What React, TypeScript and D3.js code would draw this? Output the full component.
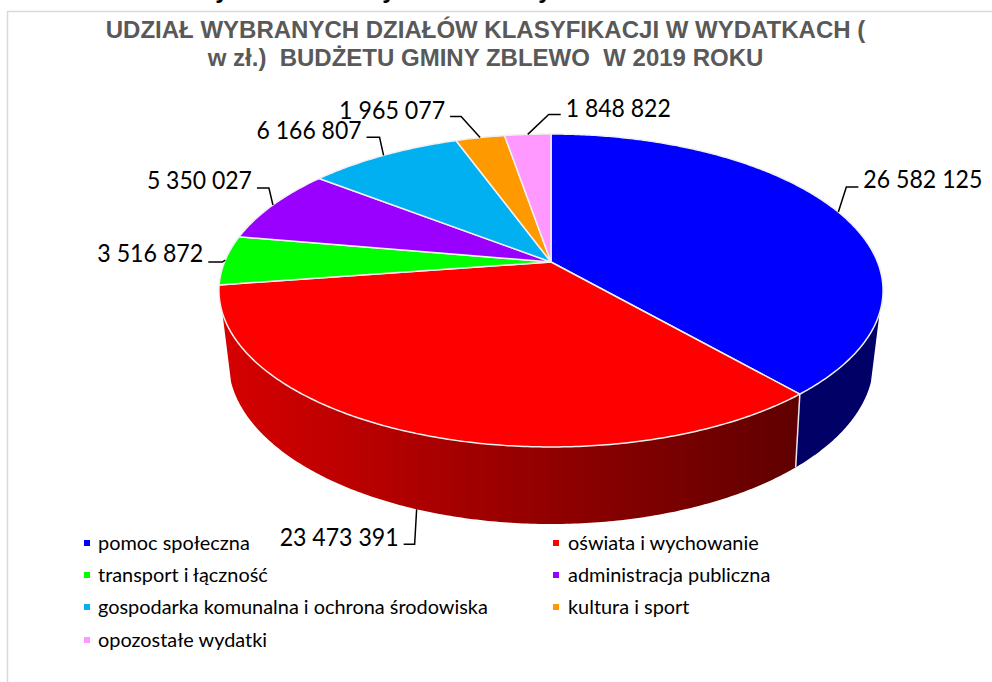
import React from "react";
import * as d3 from "d3";

const categories = [
  "pomoc społeczna",
  "oświata i wychowanie",
  "transport i łączność",
  "administracja publiczna",
  "gospodarka komunalna i ochrona środowiska",
  "kultura i sport",
  "opozostałe wydatki",
];
const values = [26582125, 23473391, 3516872, 5350027, 6166807, 1965077, 1848822];
const valueLabels = ["26 582 125", "23 473 391", "3 516 872", "5 350 027", "6 166 807", "1 965 077", "1 848 822"];
const colors = ["#0000ff", "#ff0000", "#00ff00", "#9900ff", "#00b0f0", "#ff9900", "#ff99ff"];
const titleLines = ["UDZIAŁ WYBRANYCH DZIAŁÓW KLASYFIKACJI W WYDATKACH (", "w zł.)  BUDŻETU GMINY ZBLEWO  W 2019 ROKU"];

// layout: offsets from the leader's anchor on the pie
const elbowDx = [8, -2, -3, -4, -4, -19, 21];
const elbowDy = [-25, 35, 2, -17, -18, -21, -20];
const endDx = [12, -11, -14, -12, -13, -11, 12];
const baseDy = [-24.5, 37, 2, -16, -16.5, -19, -17.5];
const labelWidths = [119, 119, 106, 105, 105, 106, 105];

const W = 992, H = 682;
const CX = 551;
// perspective projection of the pie's top and bottom discs
const top = { a: 326.5, b: 151.3, k: 0.182, y0: 262 };
const bottom = { a: 316, b: 156, k: 0.2, y0: 329 };
type Disc = typeof top;
const project = (d: Disc, t: number): [number, number] => {
  const u = Math.sin(t), v = Math.cos(t), den = 1 + d.k * v;
  return [CX + (d.a * u) / den, d.y0 - (d.b * v) / den];
};
const sample = (d: Disc, a0: number, a1: number) => {
  const n = Math.max(2, Math.ceil(Math.abs(a1 - a0) / 0.01));
  return d3.range(n + 1).map((i) => project(d, a0 + ((a1 - a0) * i) / n));
};
const line = d3.line();
const arcs = d3.pie<number>().sort(null).startAngle(0).endAngle(2 * Math.PI)(values);

const WALL_START = (108.5 * Math.PI) / 180;
const WALL_END = (251.5 * Math.PI) / 180;
const wallPath = (a0: number, a1: number) =>
  line([...sample(top, a0, a1), ...sample(bottom, a1, a0)])! + "Z";
const capPath = (a0: number, a1: number) =>
  line([[CX, top.y0], ...sample(top, a0, a1)])! + "Z";

const LEGEND_X = [84, 553];
const LEGEND_TEXT_X = [98, 568];
const LEGEND_Y = [543, 575, 607, 640];
const sans = "'Liberation Sans', Arial, sans-serif";
const labelFont = "Lato, Carlito, sans-serif";

export default function App() {
  return (
    <svg width={W} height={H} viewBox={`0 0 ${W} ${H}`} style={{ position: "absolute", left: 0, top: 0, background: "#fff" }}>
      <defs>
        <linearGradient id="redWall" gradientUnits="userSpaceOnUse" x1={225} x2={797} y1={0} y2={0}>
          <stop offset="0" stopColor="#d60000" />
          <stop offset="0.5" stopColor="#990000" />
          <stop offset="1" stopColor="#600000" />
        </linearGradient>
      </defs>
      {[222, 389, 545].map((x) => (
        <text key={x} x={x} y={-2} textAnchor="middle" fontFamily={sans} fontWeight="bold" fontSize={24} fill="#000">y</text>
      ))}
      <path d="M992 11.5H7.5V682" fill="none" stroke="#d9d9d9" strokeWidth={1.5} />
      {titleLines.map((t, i) => (
        <text key={i} x={485.5} y={38 + i * 27.5} textAnchor="middle" xmlSpace="preserve" style={{ whiteSpace: "pre" }} fontFamily={sans} fontWeight="bold" fontSize={24} fill="#595959">{t}</text>
      ))}
      <path d={wallPath(WALL_START, arcs[0].endAngle)} fill="#000066" stroke="none" />
      <path d={wallPath(arcs[1].startAngle, WALL_END)} fill="url(#redWall)" stroke="none" />
      <path d={line([project(top, arcs[0].endAngle), project(bottom, arcs[0].endAngle)])!} stroke="#e8e8e8" strokeWidth={1.5} fill="none" />
      {arcs.map((a, i) => (
        <path key={i} d={capPath(a.startAngle, a.endAngle)} fill={colors[i]} stroke="#f0f0f0" strokeWidth={1.5} strokeLinejoin="round" />
      ))}
      {arcs.map((a, i) => {
        const mid = (a.startAngle + a.endAngle) / 2;
        const onFront = Math.cos(mid) < -0.7;
        const [ax, ay] = project(onFront ? bottom : top, mid);
        const ex = ax + elbowDx[i], ey = ay + elbowDy[i];
        const hx = ex + endDx[i];
        const right = endDx[i] > 0;
        return (
          <g key={i}>
            <path d={line([[ax, ay], [ex, ey], [hx, ey]])!} fill="none" stroke="#000" strokeWidth={1.5} />
            <text x={hx + (right ? 5 : -5)} y={ay + baseDy[i]} textAnchor={right ? "start" : "end"} textLength={labelWidths[i]} lengthAdjust="spacingAndGlyphs" fontFamily={labelFont} fontSize={25} fill="#000">{valueLabels[i]}</text>
          </g>
        );
      })}
      {categories.map((c, i) => {
        const col = i % 2, row = Math.floor(i / 2);
        return (
          <g key={c}>
            <rect x={LEGEND_X[col]} y={LEGEND_Y[row] - 3} width={6} height={6} fill={colors[i]} />
            <text x={LEGEND_TEXT_X[col]} y={LEGEND_Y[row] + 6.5} fontFamily={labelFont} fontSize={19.9} fill="#000">{c}</text>
          </g>
        );
      })}
    </svg>
  );
}
